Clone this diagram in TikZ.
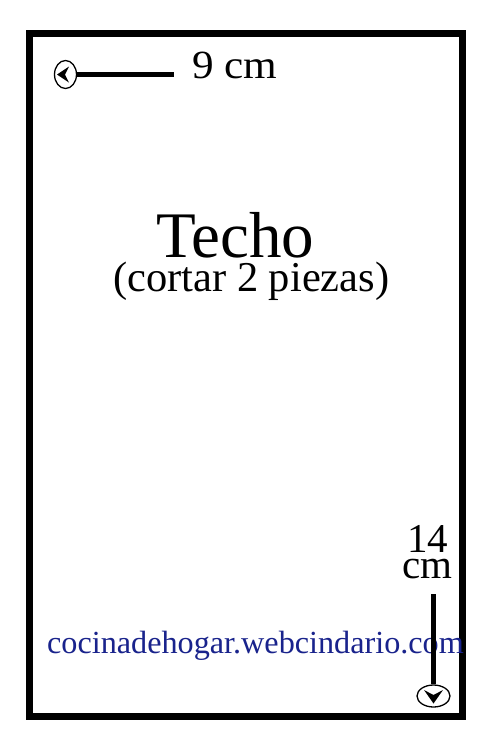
\documentclass[tikz,border=0pt]{standalone}
\usepackage{fontspec}
\setmainfont{Liberation Serif}
\usetikzlibrary{shapes.geometric}
\begin{document}
\begin{tikzpicture}[x=1pt,y=-1pt,
  txt/.style={inner sep=0pt,anchor=base west,text=black},
  ring/.style={draw=black,line width=1.3pt,ellipse,inner sep=0pt,fill=white},
  bar/.style={line width=5.5pt}]
\useasboundingbox (0,0) rectangle (500,750);
\fill[white] (0,0) rectangle (500,750);
\draw[line width=7pt] (29.5,33.5) rectangle (462,716.5);
% left dimension
\node[ring,minimum width=22pt,minimum height=28pt] (lc) at (65.5,74.5) {};
\coordinate (le) at (174,74.5);
\draw[bar] (lc.east) -- (le);
\fill (57,74.5) -- (69,66.5) -- (65,74.5) -- (69,82.5) -- cycle;
\node[txt,font=\fontsize{40}{40}\selectfont,xscale=1.08] (w) at (192,78) {9 cm};
% title
\node[txt,font=\fontsize{65}{65}\selectfont] (t) at (156,257) {Techo};
\node[txt,font=\fontsize{42.5}{42.5}\selectfont,text height=25pt] (s) at (113,291) {(cortar 2 piezas)};
% url
\node[txt,text={rgb,255:red,25;green,35;blue,140},font=\fontsize{32.2}{32.2}\selectfont] (u) at (47,653) {cocinadehogar.webcindario.com};
% right dimension
\node[ring,minimum width=33pt,minimum height=22pt] (bc) at (433.5,696) {};
\coordinate (be) at (433.5,594);
\draw[bar] (be) -- (bc.north);
\fill (433.5,703.5) -- (424,690) -- (433.5,695) -- (443,690) -- cycle;
\node[inner sep=0pt,anchor=base,align=center,font=\fontsize{41}{25.5}\selectfont] (n) at (427.5,578) {14\\cm};
\end{tikzpicture}
\end{document}
